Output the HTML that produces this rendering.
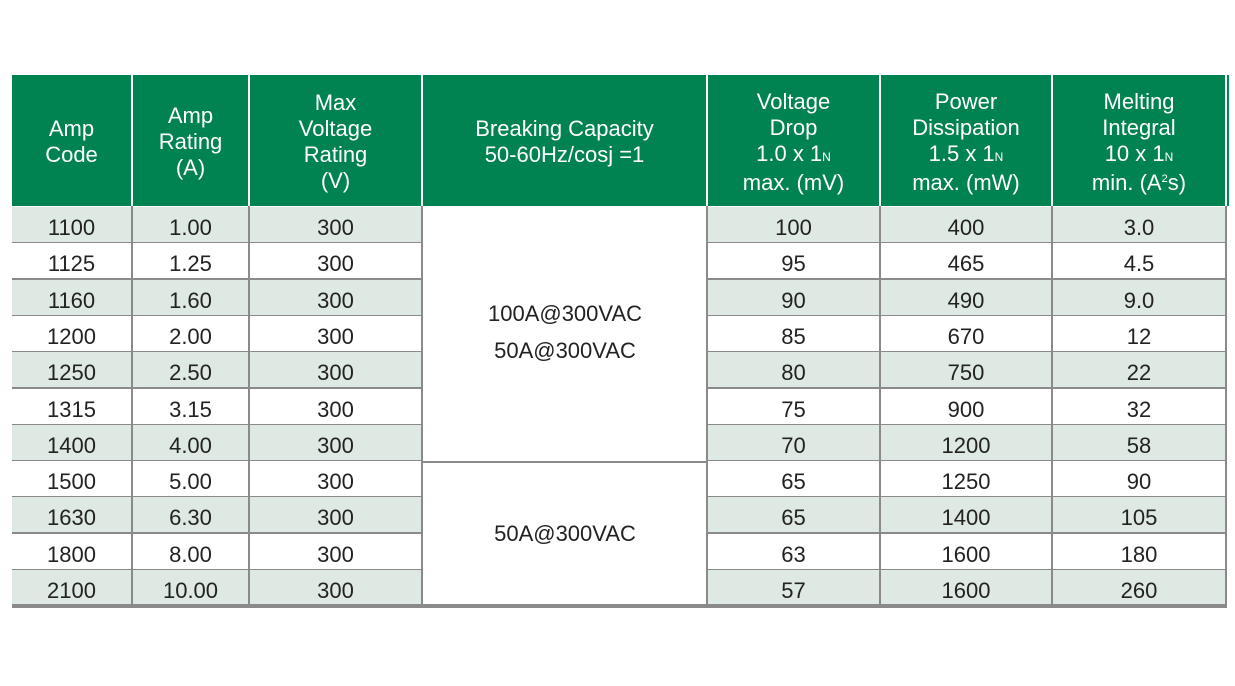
<!DOCTYPE html><html><head><style>
body{margin:0;width:1235px;height:686px;background:#fff;position:relative;overflow:hidden;font-family:"Liberation Sans",sans-serif;}
.a{position:absolute;box-sizing:border-box;}
.h{background:#008350;color:#fff;font-size:22px;line-height:26px;display:flex;align-items:center;justify-content:center;text-align:center;padding-top:3px;}
.c{font-size:22px;color:#222;display:flex;align-items:center;justify-content:center;}
sub{font-size:12px;vertical-align:baseline;}
sup{font-size:11px;vertical-align:top;line-height:18px;}
</style></head><body>
<div class="a h" style="left:12px;top:75px;width:119px;height:131px"><div>Amp<br>Code</div></div>
<div class="a h" style="left:133px;top:75px;width:115px;height:131px"><div>Amp<br>Rating<br>(A)</div></div>
<div class="a h" style="left:250px;top:75px;width:171px;height:131px"><div>Max<br>Voltage<br>Rating<br>(V)</div></div>
<div class="a h" style="left:423px;top:75px;width:283px;height:131px"><div>Breaking Capacity<br>50-60Hz/cosj =1</div></div>
<div class="a h" style="left:708px;top:75px;width:171px;height:131px"><div>Voltage<br>Drop<br>1.0 x 1<sub>N</sub><br>max. (mV)</div></div>
<div class="a h" style="left:881px;top:75px;width:170px;height:131px"><div>Power<br>Dissipation<br>1.5 x 1<sub>N</sub><br>max. (mW)</div></div>
<div class="a h" style="left:1053px;top:75px;width:172px;height:131px"><div>Melting<br>Integral<br>10 x 1<sub>N</sub><br>min. (A<sup>2</sup>s)</div></div>
<div class="a" style="left:1227px;top:75px;width:2px;height:131px;background:#008350"></div>
<div id="rows"></div>
<div class="a c" style="left:423px;top:294px;width:284px;height:76px;text-align:center;line-height:37px"><div>100A@300VAC<br>50A@300VAC</div></div>
<div class="a c" style="left:423px;top:516px;width:284px;height:36px">50A@300VAC</div>
<script>
var d=[["1100","1.00","100","400","3.0"],["1125","1.25","95","465","4.5"],["1160","1.60","90","490","9.0"],["1200","2.00","85","670","12"],["1250","2.50","80","750","22"],["1315","3.15","75","900","32"],["1400","4.00","70","1200","58"],["1500","5.00","65","1250","90"],["1630","6.30","65","1400","105"],["1800","8.00","63","1600","180"],["2100","10.00","57","1600","260"]];
var cols=[[12,131],[133,248],[250,421],[708,879],[881,1051],[1053,1225]];
var h="";
for(var i=0;i<11;i++){var t=Math.round(207+i*36.3);var bg=i%2==0?"#dde9e2":"#fff";
var v=[d[i][0],d[i][1],"300",d[i][2],d[i][3],d[i][4]];
for(var j=0;j<6;j++){h+='<div class="a c" style="left:'+cols[j][0]+'px;top:'+t+'px;width:'+(cols[j][1]-cols[j][0])+'px;height:35px;background:'+bg+';padding-top:6px">'+v[j]+'</div>';}
if(i<10){h+='<div class="a" style="left:12px;top:'+(t+35)+'px;width:410px;height:2px;background:#8a8a8a"></div>';
h+='<div class="a" style="left:707px;top:'+(t+35)+'px;width:520px;height:2px;background:#8a8a8a"></div>';}}
var xs=[131,248,421,706,879,1051,1225];
for(var k=0;k<xs.length;k++)h+='<div class="a" style="left:'+xs[k]+'px;top:206px;width:2px;height:399px;background:#8a8a8a"></div>';
h+='<div class="a" style="left:421px;top:461px;width:287px;height:2px;background:#8a8a8a"></div>';
h+='<div class="a" style="left:12px;top:604px;width:1215px;height:4px;background:#8a8a8a"></div>';
document.getElementById("rows").innerHTML=h;
</script>
</body></html>
